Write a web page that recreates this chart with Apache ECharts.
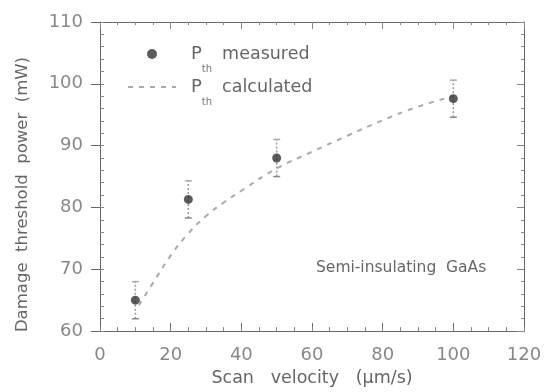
<!DOCTYPE html>
<html>
<head>
<meta charset="utf-8">
<script src="https://cdn.jsdelivr.net/npm/echarts@6/dist/echarts.min.js"></script>
<style>
  html, body { margin: 0; padding: 0; background: #fff; }
  #chart { width: 547px; height: 392px; }
</style>
</head>
<body>
<div id="chart"></div>
<script>
// scan velocity (um/s) of the measured points
const velocities = [10, 25, 50, 100];
// measured damage threshold (mW) and its error half-range
const measured = [65.0, 81.3, 88.0, 97.6];
const errors = [3.0, 3.0, 3.0, 3.0];
// calculated curve
const calcX = [11, 15, 20, 25, 30, 35, 40, 50, 60, 70, 80, 90, 100];
const calcY = [64.2, 67.8, 72.2, 75.8, 78.6, 80.8, 82.7, 86.3, 89.0, 91.6, 94.1, 96.3, 98.0];

const xTicks = [0, 20, 40, 60, 80, 100, 120];
const yTicks = [60, 70, 80, 90, 100, 110];

const axisColor = '#666';
const labelColor = '#888';
const font = 'DejaVu Sans, sans-serif';

const chart = echarts.init(document.getElementById('chart'));

const scatterData = velocities.map((v, i) => [v, measured[i]]);
const errorData = velocities.map((v, i) => [v, measured[i] - errors[i], measured[i] + errors[i]]);
const calcData = calcX.map((v, i) => [v, calcY[i]]);

const richLegend = {
  p: { fontSize: 18, color: '#666', fontFamily: font, lineHeight: 20, verticalAlign: 'middle', padding: [0, 0, 0, 10] },
  s: { fontSize: 10, color: '#777', fontFamily: font, lineHeight: 12, verticalAlign: 'top', padding: [20, 0, 0, 0] },
  t: { fontSize: 17.5, color: '#666', fontFamily: font, lineHeight: 20, verticalAlign: 'middle', padding: [0, 0, 0, 10] }
};

// helper for extra tick-only axes (minor ticks / mirrored frame)
const tickAxis = (dim, pos, interval, len, showLine) => ({
  type: 'value',
  min: dim === 'x' ? 0 : 60,
  max: dim === 'x' ? 120 : 110,
  interval: interval,
  position: pos,
  axisLine: { show: showLine, onZero: false, lineStyle: { color: axisColor } },
  axisTick: { show: true, inside: true, length: len, lineStyle: { color: '#888' } },
  axisLabel: { show: false },
  splitLine: { show: false }
});

chart.setOption({
  animation: false,
  backgroundColor: '#fff',
  title: {
    text: 'Semi-insulating  GaAs',
    left: 311,
    top: 255,
    textStyle: { fontSize: 15.5, fontWeight: 'normal', color: '#666', fontFamily: font }
  },
  grid: { left: 100, right: 23, top: 22, bottom: 56 },
  legend: {
    orient: 'vertical',
    left: 122,
    top: 39,
    itemWidth: 48,
    itemHeight: 10,
    itemGap: 3,
    data: [
      { name: 'Pth measured' },
      { name: 'Pth calculated', itemStyle: { opacity: 0 } }
    ],
    formatter: name => '{p|P}{s|th}{t|' + name.replace('Pth ', '') + '}',
    textStyle: { rich: richLegend }
  },
  xAxis: [
    {
      type: 'value',
      min: 0,
      max: 120,
      interval: 20,
      position: 'bottom',
      name: 'Scan   velocity   (μm/s)',
      nameLocation: 'middle',
      nameGap: 37,
      nameTextStyle: { fontSize: 17.5, color: '#666', fontFamily: font },
      axisLine: { onZero: false, lineStyle: { color: axisColor } },
      axisTick: { inside: true, length: 8, lineStyle: { color: axisColor } },
      axisLabel: { fontSize: 18, color: labelColor, fontFamily: font, margin: 15,
        formatter: v => xTicks.includes(v) ? String(v) : '' },
      splitLine: { show: false }
    },
    tickAxis('x', 'bottom', 5, 4, false),
    tickAxis('x', 'top', 20, 7, true),
    tickAxis('x', 'top', 5, 3, false)
  ],
  yAxis: [
    {
      type: 'value',
      min: 60,
      max: 110,
      interval: 10,
      position: 'left',
      name: 'Damage  threshold  power  (mW)',
      nameLocation: 'middle',
      nameGap: 69,
      nameTextStyle: { fontSize: 16.5, color: '#666', fontFamily: font, padding: [0, 36, 0, 0] },
      axisLine: { lineStyle: { color: axisColor } },
      axisTick: { inside: false, length: 9, lineStyle: { color: axisColor } },
      axisLabel: { fontSize: 18, color: labelColor, fontFamily: font, margin: 17,
        formatter: v => yTicks.includes(v) ? String(v) : '' },
      splitLine: { show: false }
    },
    tickAxis('y', 'left', 2, 4, false),
    tickAxis('y', 'right', 10, 7, true),
    tickAxis('y', 'right', 2, 3, false)
  ],
  series: [
    {
      name: 'Pth calculated',
      type: 'line',
      data: calcData,
      smooth: true,
      showSymbol: false,
      symbol: 'none',
      color: '#aaa',
      lineStyle: { color: '#aaa', width: 2, type: [5, 6] },
      z: 2
    },
    {
      name: 'error',
      type: 'custom',
      data: errorData,
      renderItem: (params, api) => {
        const x = api.value(0);
        const lo = api.coord([x, api.value(1)]);
        const hi = api.coord([x, api.value(2)]);
        const w = 3.5;
        return {
          type: 'group',
          children: [
            { type: 'line', shape: { x1: lo[0], y1: lo[1], x2: hi[0], y2: hi[1] },
              style: { stroke: '#999', lineWidth: 1.5, lineDash: [2, 2] } },
            { type: 'line', shape: { x1: hi[0] - w, y1: hi[1], x2: hi[0] + w, y2: hi[1] },
              style: { stroke: '#aaa', lineWidth: 1.5 } },
            { type: 'line', shape: { x1: lo[0] - w, y1: lo[1], x2: lo[0] + w, y2: lo[1] },
              style: { stroke: '#888', lineWidth: 1.5 } }
          ]
        };
      },
      z: 3
    },
    {
      name: 'Pth measured',
      type: 'scatter',
      data: scatterData,
      symbol: 'circle',
      symbolSize: 9,
      color: '#333',
      itemStyle: { color: '#333' },
      z: 4
    }
  ]
});
</script>
</body>
</html>
